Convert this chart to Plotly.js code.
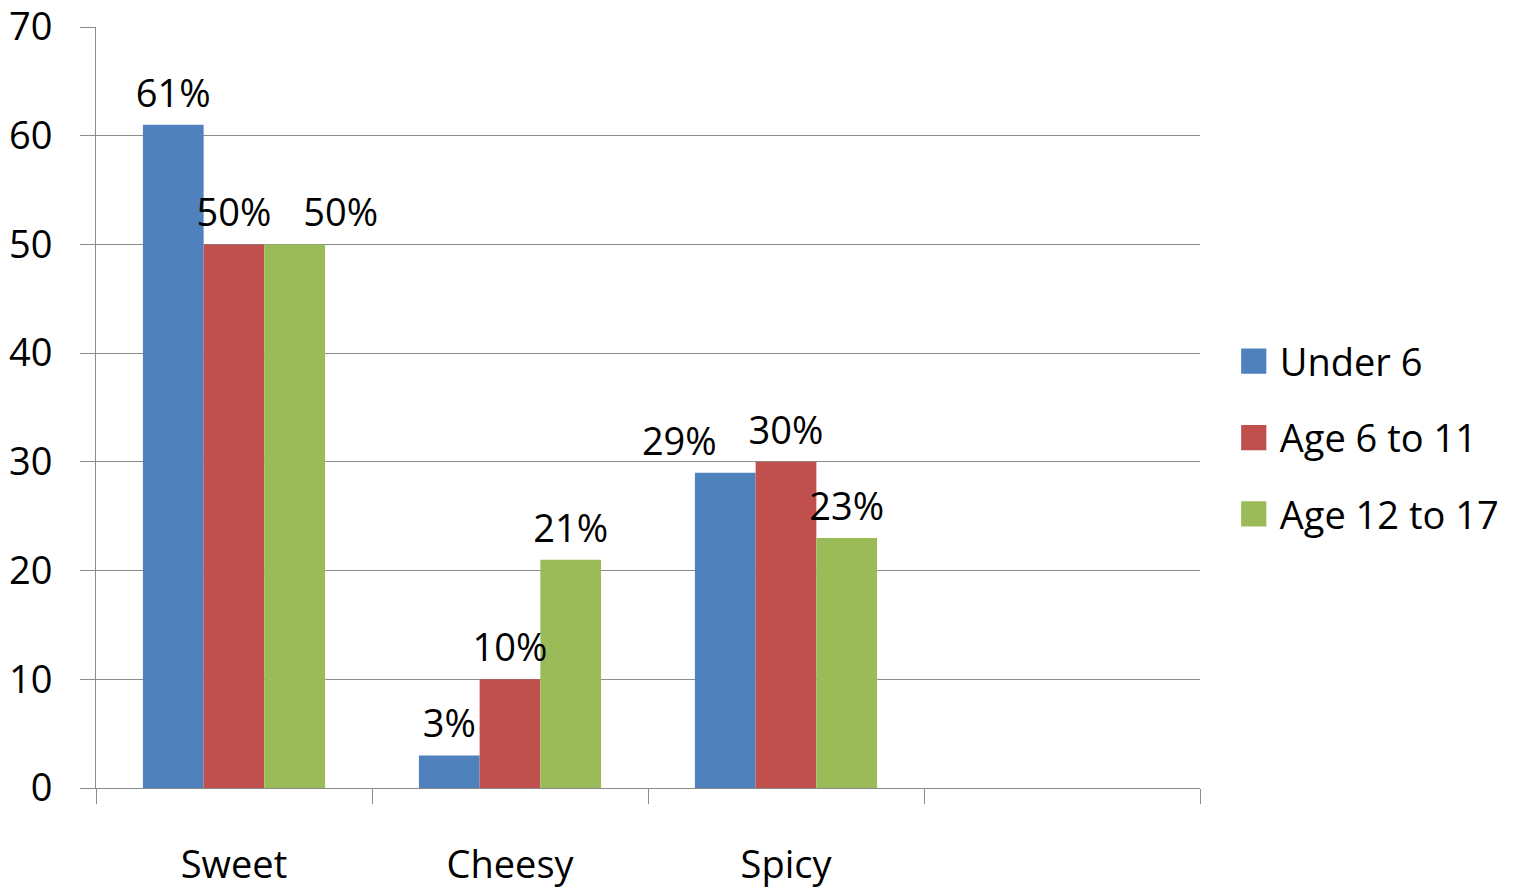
<!DOCTYPE html>
<html>
<head>
<meta charset="utf-8">
<script src="https://cdn.plot.ly/plotly-3.0.1.min.js"></script>
<style>html,body{margin:0;padding:0;background:#fff;}#chart{width:1524px;height:889px;}</style>
</head>
<body>
<div id="chart"></div>
<script>
const categories = ["Sweet", "Cheesy", "Spicy", " "];
const seriesNames = ["Under 6", "Age 6 to 11", "Age 12 to 17"];
const under6 = [61, 3, 29, null];
const age6to11 = [50, 10, 30, null];
const age12to17 = [50, 21, 23, null];
const yTicks = [0, 10, 20, 30, 40, 50, 60, 70];
// label placement per point (to keep neighbouring labels apart, as in the original)
const labelPos = [
  ["top center", "top center", "top left", "top center"],
  ["top center", "top center", "top center", "top center"],
  ["top right", "top center", "top center", "top center"]
];

const colors = ["#4F81BD", "#C0504D", "#9BBB59"];
const values = [under6, age6to11, age12to17];
const FONT = "'Open Sans', 'Noto Sans', sans-serif";
const FS = 38;
const gridCol = "#8C8C8C";

const bars = values.map((v, i) => ({
  type: "bar",
  name: seriesNames[i],
  x: categories,
  y: v,
  marker: {color: colors[i]},
  offsetgroup: String(i),
  alignmentgroup: "a",
  legendgroup: "g" + i,
  hoverinfo: "x+y+name"
}));

const labels = values.map((v, i) => ({
  type: "scatter",
  mode: "markers+text",
  x: categories,
  y: v,
  texttemplate: "%{y}%",
  textposition: labelPos[i],
  textfont: {family: FONT, size: FS, color: "#000"},
  marker: {size: 12, opacity: 0, color: colors[i]},
  offsetgroup: String(i),
  alignmentgroup: "a",
  showlegend: false,
  cliponaxis: false,
  hoverinfo: "skip"
}));

const layout = {
  width: 1524, height: 889,
  margin: {l: 96, r: 324, t: 27, b: 101},
  paper_bgcolor: "#fff", plot_bgcolor: "#fff",
  font: {family: FONT, size: FS, color: "#000"},
  barmode: "group",
  bargap: 0.34,
  bargroupgap: 0,
  scattermode: "group",
  scattergap: 0.34,
  showlegend: true,
  legend: {
    x: 1.036, xanchor: "left", y: 0.46, yanchor: "middle",
    traceorder: "grouped", tracegroupgap: 24,
    font: {family: FONT, size: FS, color: "#000"},
    bgcolor: "rgba(0,0,0,0)"
  },
  xaxis: {
    type: "category",
    categoryorder: "array", categoryarray: categories,
    range: [-0.5, 3.5],
    showline: true, linecolor: gridCol, linewidth: 1,
    ticks: "outside", tickson: "boundaries", ticklen: 15, tickcolor: gridCol,
    ticklabelstandoff: 43,
    ticklabeloverflow: "allow",
    showgrid: false, zeroline: false,
    tickfont: {family: FONT, size: FS, color: "#000"},
    fixedrange: true
  },
  yaxis: {
    range: [0, 70],
    tickvals: yTicks,
    ticktext: yTicks.map(String),
    showline: true, linecolor: gridCol, linewidth: 1,
    showgrid: true, gridcolor: gridCol, gridwidth: 1,
    ticks: "outside", ticklen: 15, tickcolor: gridCol,
    ticklabelstandoff: 20,
    ticklabeloverflow: "allow",
    zeroline: false,
    tickfont: {family: FONT, size: FS, color: "#000"},
    fixedrange: true
  }
};

Plotly.newPlot("chart", bars.concat(labels), layout, {displayModeBar: false, staticPlot: true}).then(gd => {
  // enlarge the legend colour squares to match the original's size
  gd.querySelectorAll(".legend .legendpoints path").forEach(p => {
    const t = p.getAttribute("transform") || "";
    p.setAttribute("transform", t + " translate(-6,0) scale(2.1)");
  });
});
</script>
</body>
</html>
